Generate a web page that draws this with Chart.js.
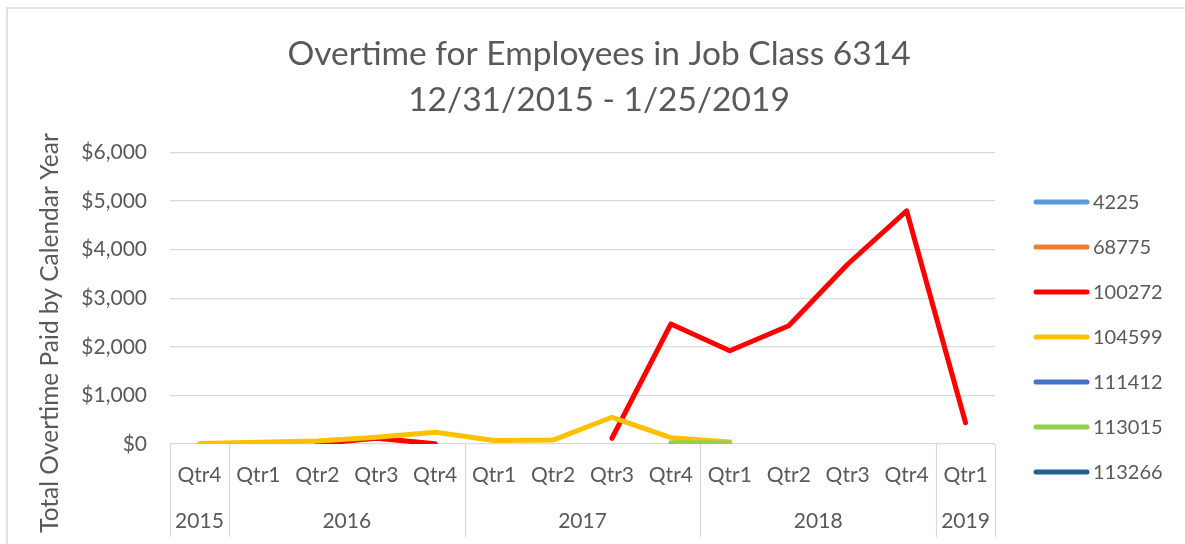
<!DOCTYPE html>
<html><head><meta charset="utf-8">
<script src="https://cdn.jsdelivr.net/npm/chart.js@4"></script>
<style>html,body{margin:0;padding:0;background:#fff}canvas{display:block}</style>
</head><body>
<canvas id="c" width="1185" height="544"></canvas>
<script>
const quarterLabels = ['Qtr4','Qtr1','Qtr2','Qtr3','Qtr4','Qtr1','Qtr2','Qtr3','Qtr4','Qtr1','Qtr2','Qtr3','Qtr4','Qtr1'];
const yearLabels = ['2015','2016','2017','2018','2019'];
const yearSpans = [1, 4, 4, 4, 1];
const yTicks = [0, 1000, 2000, 3000, 4000, 5000, 6000];

const seriesNames = ['4225','68775','100272','104599','111412','113015','113266'];
const seriesColors = ['#5B9BD5','#ED7D31','#FF0000','#FFC000','#4472C4','#92D050','#255E91'];

const s4225   = [null,null,null,null,null,null,null,null,null,null,null,null,null,null];
const s68775  = [null,null,null,null,null,null,null,null,null,null,null,null,null,null];
const s100272 = [null,null,5,120,5,null,null,118,2470,1920,2435,3700,4800,438];
const s104599 = [10,35,60,140,240,70,80,550,130,40,null,null,null,null];
const s111412 = [null,null,null,null,null,null,null,null,null,null,null,null,null,null];
const s113015 = [null,null,null,null,null,null,null,null,25,20,null,null,null,null];
const s113266 = [null,null,null,null,null,null,null,null,null,null,null,null,null,null];
const seriesValues = [s4225, s68775, s100272, s104599, s111412, s113015, s113266];

const TEXT = '#595959';
const GRID = '#d9d9d9';
Chart.defaults.font.family = 'Lato';

const decor = {
  id: 'decor',
  beforeDraw(chart) {
    const ctx = chart.ctx;
    ctx.save();
    ctx.fillStyle = '#fff';
    ctx.fillRect(0, 0, chart.width, chart.height);
    ctx.strokeStyle = GRID;
    ctx.lineWidth = 1.5;
    ctx.strokeRect(7, 8, chart.width + 10, chart.height + 10);
    ctx.restore();
  },
  afterDraw(chart) {
    const ctx = chart.ctx, xs = chart.scales.x, area = chart.chartArea;
    const step = xs.getPixelForValue(1) - xs.getPixelForValue(0);
    const edge = i => xs.getPixelForValue(0) - step / 2 + i * step;
    ctx.save();
    ctx.strokeStyle = GRID;
    ctx.lineWidth = 1.2;
    let b = 0;
    const bounds = [0];
    yearSpans.forEach(s => { b += s; bounds.push(b); });
    bounds.forEach(i => {
      const x = Math.round(edge(i)) + 0.5;
      ctx.beginPath(); ctx.moveTo(x, area.bottom); ctx.lineTo(x, 537); ctx.stroke();
    });
    ctx.fillStyle = TEXT;
    ctx.font = '21px Lato';
    ctx.textAlign = 'center';
    ctx.textBaseline = 'middle';
    let start = 0;
    yearLabels.forEach((y, i) => {
      const x0 = edge(start), x1 = edge(start + yearSpans[i]);
      ctx.fillText(y, (x0 + x1) / 2, 521);
      start += yearSpans[i];
    });
    ctx.save();
    ctx.translate(50, 333);
    ctx.rotate(-Math.PI / 2);
    ctx.font = '24.5px Lato';
    ctx.fillText('Total Overtime Paid by Calendar Year', 0, 0);
    ctx.restore();
    ctx.textAlign = 'left';
    ctx.font = '20px Lato';
    ctx.lineCap = 'round';
    chart.data.datasets.forEach((ds, i) => {
      const y = 202 + i * 45;
      ctx.strokeStyle = ds.borderColor;
      ctx.lineWidth = 5;
      ctx.beginPath(); ctx.moveTo(1036, y); ctx.lineTo(1087, y); ctx.stroke();
      ctx.fillStyle = TEXT;
      ctx.fillText(ds.label, 1093, y + 1);
    });
    ctx.restore();
  }
};

const datasets = seriesNames.map((name, i) => ({
  label: name,
  data: seriesValues[i],
  borderColor: seriesColors[i],
  backgroundColor: seriesColors[i],
  borderWidth: 5,
  pointRadius: 0,
  pointHoverRadius: 0,
  borderCapStyle: 'round',
  borderJoinStyle: 'round',
  tension: 0,
  spanGaps: false,
  order: seriesNames.length - i
}));

new Chart(document.getElementById('c'), {
  type: 'line',
  data: { labels: quarterLabels, datasets },
  options: {
    responsive: false,
    animation: false,
    layout: { padding: { left: 13, right: 0, top: 0, bottom: 0 } },
    plugins: {
      legend: { display: false },
      tooltip: { enabled: false },
      title: {
        display: true,
        text: ['Overtime for Employees in Job Class 6314', '12/31/2015 - 1/25/2019'],
        color: TEXT,
        font: { size: 33.5, weight: 'normal', lineHeight: 1.373 },
        padding: { top: 31, bottom: 29.5 }
      }
    },
    scales: {
      x: {
        offset: true,
        grid: { display: false, drawTicks: false },
        border: { display: false },
        ticks: { color: TEXT, font: { size: 21 }, padding: 19, autoSkip: false, maxRotation: 0 },
        afterFit(s) { s.height = 100; }
      },
      y: {
        min: 0, max: 6000,
        afterBuildTicks(s) { s.ticks = yTicks.map(v => ({ value: v })); },
        grid: { color: GRID, lineWidth: 1.2, drawTicks: false },
        border: { display: false },
        ticks: {
          color: TEXT, font: { size: 21 }, padding: 23,
          callback: v => '$' + Number(v).toLocaleString('en-US')
        },
        afterFit(s) { s.width = 157; }
      },
      yR: {
        type: 'linear', position: 'right', display: true,
        grid: { display: false, drawTicks: false },
        border: { display: false },
        ticks: { display: false },
        afterFit(s) { s.width = 190; }
      }
    }
  },
  plugins: [decor]
});
</script>
</body></html>
